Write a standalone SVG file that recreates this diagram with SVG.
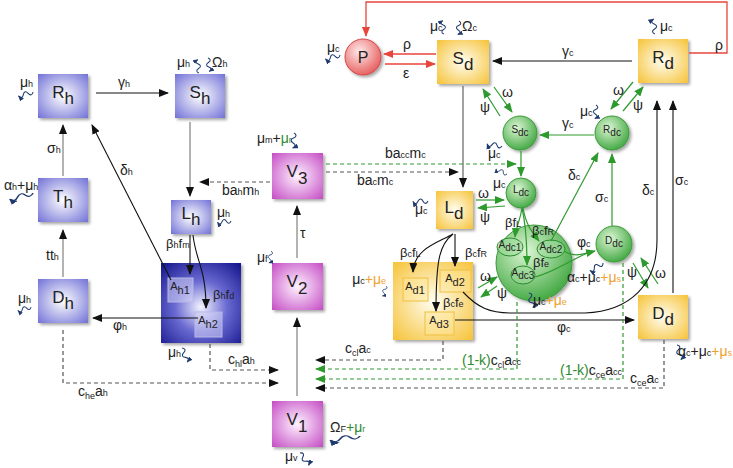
<svg xmlns="http://www.w3.org/2000/svg" width="733" height="468" viewBox="0 0 733 468">
<defs>
<style>
text{font-family:"Liberation Sans","DejaVu Sans",sans-serif;font-size:14px;fill:#222}
.s{font-size:9px}
.n{font-size:17px}
.m{font-size:11px}
.c{font-size:10px}
.g{fill:#2e8a2e}
.o{fill:#f0a030}
.hb{fill:url(#gB);filter:url(#sh)}
.hbd{fill:url(#gBD);filter:url(#sh)}
.vb{fill:url(#gM);filter:url(#sh)}
.yb{fill:url(#gY);filter:url(#sh)}
.cg{fill:url(#gG);stroke:#3a9a3a;stroke-width:1;filter:url(#sh)}
.cr{fill:url(#gR);stroke:#d04848;stroke-width:1;filter:url(#sh)}
.ib{fill:#d4d4f6;fill-opacity:.55;stroke:#b8b8e8;stroke-width:1}
.iy{fill:#ffe69a;fill-opacity:.45;stroke:#f0c040;stroke-width:1}
.eg{fill:#9ede9e;fill-opacity:.5;stroke:#2e8a2e;stroke-width:1}
.ln{fill:none;stroke:#111;stroke-width:1.1}
.gy{fill:none;stroke:#8a8a8a;stroke-width:1.3}
.gr{fill:none;stroke:#2e9a2e;stroke-width:1.2}
.rd{fill:none;stroke:#e8453c;stroke-width:1.3}
.dk{fill:none;stroke:#555;stroke-width:1.2;stroke-dasharray:4 3}
.dgr{fill:none;stroke:#2e9a2e;stroke-width:1.2;stroke-dasharray:4 3}
.wv{fill:none;stroke:#1f3a70;stroke-width:1.1}
</style>
<radialGradient id="gB" cx="50%" cy="50%" r="72%"><stop offset="0" stop-color="#ffffff"/><stop offset="1" stop-color="#6e6ed6"/></radialGradient>
<radialGradient id="gBD" cx="50%" cy="55%" r="72%"><stop offset="0" stop-color="#f4f4ff"/><stop offset="0.45" stop-color="#6a6ad2"/><stop offset="1" stop-color="#16168e"/></radialGradient>
<radialGradient id="gM" cx="50%" cy="50%" r="72%"><stop offset="0" stop-color="#fff4ff"/><stop offset="1" stop-color="#c348c3"/></radialGradient>
<radialGradient id="gY" cx="50%" cy="50%" r="72%"><stop offset="0" stop-color="#fffef2"/><stop offset="1" stop-color="#f6c133"/></radialGradient>
<radialGradient id="gG" cx="40%" cy="35%" r="70%"><stop offset="0" stop-color="#dcf6d4"/><stop offset="1" stop-color="#3ea63e"/></radialGradient>
<radialGradient id="gR" cx="40%" cy="35%" r="70%"><stop offset="0" stop-color="#ffeaea"/><stop offset="1" stop-color="#e65a5a"/></radialGradient>
<filter id="sh" x="-20%" y="-20%" width="150%" height="150%"><feDropShadow dx="2" dy="2" stdDeviation="1.5" flood-color="#000" flood-opacity="0.35"/></filter>
<marker id="ab" viewBox="0 0 10 8" refX="9" refY="4" markerWidth="10" markerHeight="8" markerUnits="userSpaceOnUse" orient="auto"><path d="M0,0 L10,4 L0,8 z" fill="#111"/></marker>
<marker id="ag" viewBox="0 0 10 8" refX="9" refY="4" markerWidth="10" markerHeight="8" markerUnits="userSpaceOnUse" orient="auto"><path d="M0,0 L10,4 L0,8 z" fill="#2e9a2e"/></marker>
<marker id="ar" viewBox="0 0 10 8" refX="9" refY="4" markerWidth="10" markerHeight="8" markerUnits="userSpaceOnUse" orient="auto"><path d="M0,0 L10,4 L0,8 z" fill="#e8453c"/></marker>
<marker id="aw" viewBox="0 0 10 8" refX="9" refY="4" markerWidth="6" markerHeight="5" markerUnits="userSpaceOnUse" orient="auto"><path d="M0,0 L10,4 L0,8 z" fill="#1f3a70"/></marker>
<path id="wv" class="wv" d="M0,0 c1.5,-3 3.5,-3 5,0 s3.5,3 5,0 s3.5,-3 5,0" marker-end="url(#aw)"/>
</defs>

<!-- human nodes -->
<g id="Rh"><rect class="hb" x="38" y="74" width="50" height="44"/><text class="n" x="63" y="98" text-anchor="middle">R<tspan dy="6">h</tspan></text></g>
<g id="Sh"><rect class="hb" x="175" y="74" width="50" height="44"/><text class="n" x="200" y="98" text-anchor="middle">S<tspan dy="6">h</tspan></text></g>
<g id="Th"><rect class="hb" x="38" y="178" width="50" height="44"/><text class="n" x="63" y="202" text-anchor="middle">T<tspan dy="6">h</tspan></text></g>
<g id="Dh"><rect class="hb" x="38" y="279" width="50" height="44"/><text class="n" x="63" y="303" text-anchor="middle">D<tspan dy="6">h</tspan></text></g>
<g id="Lh"><rect class="hb" x="171" y="200" width="40" height="34"/><text class="n" x="191" y="219" text-anchor="middle">L<tspan dy="6">h</tspan></text></g>
<g id="Ah"><rect class="hbd" x="161" y="263" width="80" height="80"/>
<g id="Ah1"><rect class="ib" x="168" y="278" width="25" height="24"/><text class="m" x="180" y="290" text-anchor="middle">A<tspan dy="4">h1</tspan></text></g>
<g id="Ah2"><rect class="ib" x="195" y="312" width="27" height="25"/><text class="m" x="208" y="324" text-anchor="middle">A<tspan dy="4">h2</tspan></text></g></g>

<!-- vector nodes -->
<g id="V3"><rect class="vb" x="272" y="153" width="51" height="46"/><text class="n" x="297" y="177" text-anchor="middle">V<tspan dy="7">3</tspan></text></g>
<g id="V2"><rect class="vb" x="272" y="263" width="51" height="47"/><text class="n" x="297" y="287" text-anchor="middle">V<tspan dy="7">2</tspan></text></g>
<g id="V1"><rect class="vb" x="272" y="401" width="51" height="46"/><text class="n" x="297" y="425" text-anchor="middle">V<tspan dy="7">1</tspan></text></g>

<!-- dog nodes -->
<g id="P"><circle class="cr" cx="363" cy="57" r="18"/><text x="363" y="63" font-size="16" text-anchor="middle" style="font-size:16px">P</text></g>
<g id="Sd"><rect class="yb" x="437" y="40" width="52" height="44"/><text class="n" x="463" y="64" text-anchor="middle">S<tspan dy="6">d</tspan></text></g>
<g id="Rd"><rect class="yb" x="638" y="39" width="50" height="44"/><text class="n" x="663" y="63" text-anchor="middle">R<tspan dy="6">d</tspan></text></g>
<g id="Ld"><rect class="yb" x="436" y="191" width="37" height="38"/><text class="n" x="454" y="213" text-anchor="middle">L<tspan dy="6">d</tspan></text></g>
<g id="Ad"><rect class="yb" x="393" y="262" width="80" height="78"/>
<g id="Ad1"><rect class="iy" x="403" y="278" width="25" height="23"/><text class="m" x="415" y="290" text-anchor="middle">A<tspan dy="4">d1</tspan></text></g>
<g id="Ad2"><rect class="iy" x="440" y="270" width="31" height="22"/><text class="m" x="455" y="282" text-anchor="middle">A<tspan dy="4">d2</tspan></text></g>
<g id="Ad3"><rect class="iy" x="425" y="312" width="29" height="23"/><text class="m" x="439" y="324" text-anchor="middle">A<tspan dy="4">d3</tspan></text></g></g>
<g id="Dd"><rect class="yb" x="638" y="295" width="50" height="44"/><text class="n" x="663" y="319" text-anchor="middle">D<tspan dy="6">d</tspan></text></g>

<!-- dog compartments (green) -->
<g id="Sdc"><circle class="cg" cx="520" cy="133" r="17"/><text class="c" x="520" y="133" text-anchor="middle">S<tspan dy="3">dc</tspan></text></g>
<g id="Rdc"><circle class="cg" cx="612" cy="133" r="17"/><text class="c" x="612" y="133" text-anchor="middle">R<tspan dy="3">dc</tspan></text></g>
<g id="Ldc"><circle class="cg" cx="521" cy="193" r="15"/><text class="c" x="521" y="193" text-anchor="middle">L<tspan dy="3">dc</tspan></text></g>
<g id="Adc"><circle class="cg" cx="534" cy="263" r="38"/>
<g id="Adc1"><ellipse class="eg" cx="510" cy="247" rx="13" ry="9"/><text class="c" x="510" y="248" text-anchor="middle">A<tspan dy="3">dc1</tspan></text></g>
<g id="Adc2"><ellipse class="eg" cx="551" cy="249" rx="14" ry="9"/><text class="c" x="551" y="250" text-anchor="middle">A<tspan dy="3">dc2</tspan></text></g>
<g id="Adc3"><ellipse class="eg" cx="523" cy="275" rx="12" ry="9"/><text class="c" x="523" y="276" text-anchor="middle">A<tspan dy="3">dc3</tspan></text></g></g>
<g id="Ddc"><circle class="cg" cx="614" cy="244" r="18"/><text class="c" x="614" y="244" text-anchor="middle">D<tspan dy="3">dc</tspan></text></g>

<!-- connectors -->
<g id="connectors">
<path class="ln" d="M96,93 H168" marker-end="url(#ab)"/>
<path class="gy" d="M190,122 V196" marker-end="url(#ab)"/>
<path class="gy" d="M63,176 V125" marker-end="url(#ab)"/>
<path class="gy" d="M63,277 V230" marker-end="url(#ab)"/>
<path class="ln" d="M171,280 L92,125" marker-end="url(#ab)"/>
<path class="ln" d="M198,318 H93" marker-end="url(#ab)"/>
<path class="ln" d="M190,235 V274" marker-end="url(#ab)"/>
<path class="ln" d="M193,235 C196,262 206,268 206,308" marker-end="url(#ab)"/>
<path class="dk" d="M270,182 H200" marker-end="url(#ab)"/>
<path class="dk" d="M210,344 V370 H278" marker-end="url(#ab)"/>
<path class="dk" d="M63,330 V383 H278" marker-end="url(#ab)"/>
<path class="gy" d="M297,258 V206" marker-end="url(#ab)"/>
<path class="gy" d="M297,396 V318" marker-end="url(#ab)"/>
<path class="dgr" d="M326,164 H516" marker-end="url(#ag)"/>
<path class="dk" d="M326,172 H458" marker-end="url(#ab)"/>
<path class="rd" d="M689,53 H727 V2 H366 V36" marker-end="url(#ar)"/>
<path class="rd" d="M436,54 H384" marker-end="url(#ar)"/>
<path class="rd" d="M385,64 H435" marker-end="url(#ar)"/>
<path class="ln" d="M632,61 H493" marker-end="url(#ab)"/>
<path class="ln" d="M463,86 V187" marker-end="url(#ab)" style="stroke:#555"/>
<path class="gr" d="M494,87 L512,112" marker-end="url(#ag)"/>
<path class="gr" d="M500,116 L483,89" marker-end="url(#ag)"/>
<path class="gr" d="M633,82 L611,109" marker-end="url(#ag)"/>
<path class="gr" d="M623,111 L643,87" marker-end="url(#ag)"/>
<path class="gr" d="M594,135 H540" marker-end="url(#ag)"/>
<path class="gr" d="M521,151 V176" marker-end="url(#ag)"/>
<path class="gr" d="M476,200 H504" marker-end="url(#ag)"/>
<path class="gr" d="M505,206 L478,208" marker-end="url(#ag)"/>
<path class="gr" d="M522,208 C520,222 516,226 515,237" marker-end="url(#ag)"/>
<path class="gr" d="M523,208 C526,225 532,232 539,241" marker-end="url(#ag)"/>
<path class="gr" d="M522,208 C527,230 527,250 527,265" marker-end="url(#ag)"/>
<path class="gr" d="M551,241 L598,153" marker-end="url(#ag)"/>
<path class="gr" d="M612,226 V154" marker-end="url(#ag)"/>
<path class="gr" d="M564,251 C575,258 583,254 595,251" marker-end="url(#ag)"/>
<path class="gr" d="M535,277 C555,272 570,260 590,252"/>
<path class="gr" d="M633,263 L648,288" marker-end="url(#ag)"/>
<path class="gr" d="M658,284 L641,258" marker-end="url(#ag)"/>
<path class="gr" d="M478,288 L497,277" marker-end="url(#ag)"/>
<path class="gr" d="M497,286 L481,297" marker-end="url(#ag)"/>
<path class="ln" d="M463,292 C478,308 490,313 512,313 H585 C630,311 657,285 657,240 V101" marker-end="url(#ab)"/>
<path class="ln" d="M673,293 V101" marker-end="url(#ab)"/>
<path class="ln" d="M455,320 H634" marker-end="url(#ab)"/>
<path class="ln" d="M453,234 C440,242 414,248 413,272" marker-end="url(#ab)"/>
<path class="ln" d="M455,234 L455,266" marker-end="url(#ab)"/>
<path class="ln" d="M453,234 C440,244 436,258 436,311" marker-end="url(#ab)"/>
<path class="dk" d="M443,341 V360 H316" marker-end="url(#ab)"/>
<path class="dgr" d="M517,302 V369 H316" marker-end="url(#ag)"/>
<path class="dgr" d="M623,263 V379 H316" marker-end="url(#ag)"/>
<path class="dk" d="M664,340 V388 H316" marker-end="url(#ab)"/>
</g>

<!-- decay / inflow squiggles -->
<g id="squiggles">
<use href="#wv" transform="translate(33,92) rotate(165)"/>
<use href="#wv" transform="translate(199,73) rotate(-95) scale(0.9)"/>
<use href="#wv" transform="translate(208,58) rotate(85) scale(0.9)"/>
<use href="#wv" transform="translate(33,193) rotate(165) scale(1.6,1)"/>
<use href="#wv" transform="translate(31,307) rotate(165) scale(0.9)"/>
<use href="#wv" transform="translate(231,221) rotate(175) scale(0.9)"/>
<use href="#wv" transform="translate(182,348) rotate(70)"/>
<use href="#wv" transform="translate(294,133) rotate(95)"/>
<use href="#wv" transform="translate(271,251) rotate(100) scale(0.8)"/>
<use href="#wv" transform="translate(360,436) rotate(172) scale(2,1)"/>
<use href="#wv" transform="translate(300,453) rotate(55)"/>
<use href="#wv" transform="translate(340,55) rotate(165)"/>
<use href="#wv" transform="translate(444,34) rotate(-95) scale(0.9)"/>
<use href="#wv" transform="translate(459,21) rotate(95) scale(0.9)"/>
<use href="#wv" transform="translate(655,34) rotate(-95)"/>
<use href="#wv" transform="translate(596,105) rotate(95) scale(0.9)"/>
<use href="#wv" transform="translate(502,146) rotate(188)"/>
<use href="#wv" transform="translate(507,174) rotate(205) scale(0.8)"/>
<use href="#wv" transform="translate(428,201) rotate(178)"/>
<use href="#wv" transform="translate(386,286) rotate(110) scale(0.7)"/>
<use href="#wv" transform="translate(529,293) rotate(75)"/>
<use href="#wv" transform="translate(603,263) rotate(150)"/>
<use href="#wv" transform="translate(677,345) rotate(75)"/>
</g>

<!-- labels -->
<g id="labels">
<text x="20" y="87">μ<tspan class="s">h</tspan></text>
<text x="118" y="87">γ<tspan class="s">h</tspan></text>
<text x="177" y="67">μ<tspan class="s">h</tspan></text>
<text x="212" y="67">Ω<tspan class="s">h</tspan></text>
<text x="47" y="153">σ<tspan class="s">h</tspan></text>
<text x="120" y="175">δ<tspan class="s">h</tspan></text>
<text x="4" y="190">α<tspan class="s">h</tspan>+μ<tspan class="s">h</tspan></text>
<text x="46" y="260">tt<tspan class="s">h</tspan></text>
<text x="18" y="303">μ<tspan class="s">h</tspan></text>
<text x="113" y="330">φ<tspan class="s">h</tspan></text>
<text x="217" y="217">μ<tspan class="s">h</tspan></text>
<text x="166" y="248" style="font-size:13px">β<tspan class="s">h</tspan>f<tspan class="s">m</tspan></text>
<text x="213" y="299" style="font-size:13px">β<tspan class="s">h</tspan>f<tspan class="s">d</tspan></text>
<text x="168" y="357">μ<tspan class="s">h</tspan></text>
<text x="228" y="364">c<tspan class="s" dy="3">hl</tspan><tspan dy="-3">a</tspan><tspan class="s">h</tspan></text>
<text x="78" y="396">c<tspan class="s" dy="3">he</tspan><tspan dy="-3">a</tspan><tspan class="s">h</tspan></text>
<text x="222" y="195">ba<tspan class="s">h</tspan>m<tspan class="s">h</tspan></text>
<text x="257" y="143">μ<tspan class="s">m</tspan>+<tspan class="g">μ</tspan><tspan class="s g">r</tspan></text>
<text x="300" y="238">τ</text>
<text x="257" y="262">μ<tspan class="s">f</tspan></text>
<text x="330" y="432">Ω<tspan class="s">F</tspan><tspan class="g">+μ</tspan><tspan class="s g">r</tspan></text>
<text x="285" y="461">μ<tspan class="s">v</tspan></text>
<text x="385" y="158">ba<tspan class="s">cc</tspan>m<tspan class="s">c</tspan></text>
<text x="357" y="185">ba<tspan class="s">c</tspan>m<tspan class="s">c</tspan></text>
<text x="715" y="50">ρ</text>
<text x="403" y="49">ρ</text>
<text x="403" y="78">ε</text>
<text x="327" y="52">μ<tspan class="s">c</tspan></text>
<text x="430" y="31">μ<tspan class="s">c</tspan></text>
<text x="462" y="31">Ω<tspan class="s">c</tspan></text>
<text x="562" y="56">γ<tspan class="s">c</tspan></text>
<text x="660" y="31">μ<tspan class="s">c</tspan></text>
<text x="480" y="112">ψ</text>
<text x="502" y="97">ω</text>
<text x="613" y="95">ω</text>
<text x="633" y="110">ψ</text>
<text x="580" y="116">μ<tspan class="s">c</tspan></text>
<text x="562" y="128">γ<tspan class="s">c</tspan></text>
<text x="488" y="158">μ<tspan class="s">c</tspan></text>
<text x="493" y="188">μ<tspan class="s">c</tspan></text>
<text x="478" y="198">ω</text>
<text x="480" y="222">ψ</text>
<text x="415" y="214">μ<tspan class="s">c</tspan></text>
<text x="505" y="227" style="font-size:13px">βf<tspan class="s">L</tspan></text>
<text x="532" y="235" style="font-size:13px">β<tspan class="s">c</tspan>f<tspan class="s">R</tspan></text>
<text x="533" y="267" style="font-size:13px">βf<tspan class="s">e</tspan></text>
<text x="568" y="180">δ<tspan class="s">c</tspan></text>
<text x="595" y="202">σ<tspan class="s">c</tspan></text>
<text x="577" y="247">φ<tspan class="s">c</tspan></text>
<text x="567" y="282">α<tspan class="s">c</tspan>+μ<tspan class="s">c</tspan><tspan class="o">+μ</tspan><tspan class="s o">s</tspan></text>
<text x="627" y="277">ψ</text>
<text x="655" y="278">ω</text>
<text x="642" y="195">δ<tspan class="s">c</tspan></text>
<text x="675" y="185">σ<tspan class="s">c</tspan></text>
<text x="480" y="281">ω</text>
<text x="497" y="298">ψ</text>
<text x="533" y="305">μ<tspan class="s">c</tspan><tspan class="o">+μ</tspan><tspan class="s o">e</tspan></text>
<text x="386" y="284" text-anchor="end">μ<tspan class="s">c</tspan><tspan class="o">+μ</tspan><tspan class="s o">e</tspan></text>
<text x="400" y="257" style="font-size:13px">β<tspan class="s">c</tspan>f<tspan class="s">L</tspan></text>
<text x="465" y="257" style="font-size:13px">β<tspan class="s">c</tspan>f<tspan class="s">R</tspan></text>
<text x="443" y="307" style="font-size:13px">β<tspan class="s">c</tspan>f<tspan class="s">e</tspan></text>
<text x="557" y="332">φ<tspan class="s">c</tspan></text>
<text x="345" y="353">c<tspan class="s" dy="3">cl</tspan><tspan dy="-3">a</tspan><tspan class="s">c</tspan></text>
<text x="462" y="365"><tspan class="g">(1-k)</tspan>c<tspan class="s" dy="3">cl</tspan><tspan dy="-3">a</tspan><tspan class="s">cc</tspan></text>
<text x="560" y="375"><tspan class="g">(1-k)</tspan>c<tspan class="s" dy="3">ce</tspan><tspan dy="-3">a</tspan><tspan class="s">cc</tspan></text>
<text x="630" y="383">c<tspan class="s" dy="3">ce</tspan><tspan dy="-3">a</tspan><tspan class="s">c</tspan></text>
<text x="678" y="356">α<tspan class="s">c</tspan>+μ<tspan class="s">c</tspan><tspan class="o">+μ</tspan><tspan class="s o">s</tspan></text>
</g>
</svg>
